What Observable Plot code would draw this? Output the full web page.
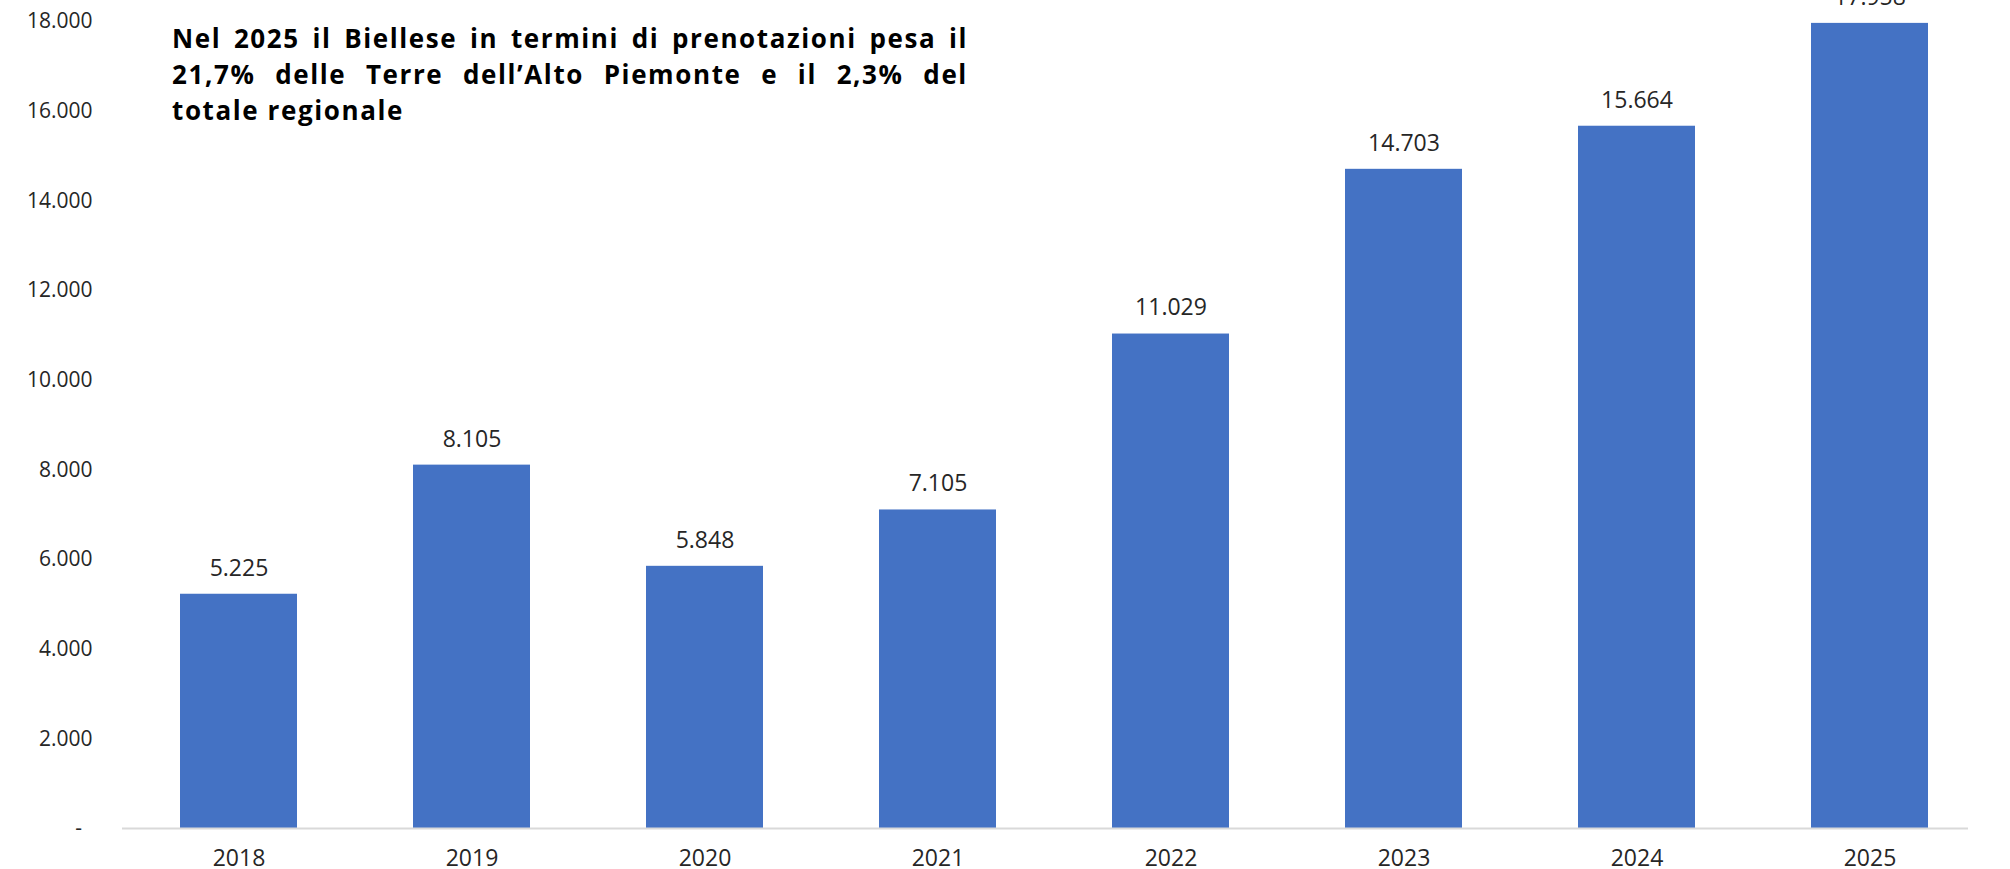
<!DOCTYPE html>
<html>
<head>
<meta charset="utf-8">
<script src="https://cdn.jsdelivr.net/npm/d3@7"></script>
<script src="https://cdn.jsdelivr.net/npm/@observablehq/plot@0.6"></script>
<style>
  html, body { margin: 0; padding: 0; background: #fff; }
  #wrap { position: relative; width: 2010px; height: 869px; overflow: hidden; }
  #title {
    position: absolute; left: 172px; top: 20px; width: 796px;
    font-family: "Open Sans", sans-serif; font-weight: 700; font-size: 26px;
    letter-spacing: 1.6px; line-height: 36px; color: #000;
  }
  #title .l { text-align: left; }
</style>
</head>
<body>
<div id="wrap">
  <div id="chart"></div>
  <div id="title">
    <div id="t1"></div>
    <div id="t2"></div>
    <div class="l" id="t3"></div>
  </div>
</div>
<script>
const years = ["2018", "2019", "2020", "2021", "2022", "2023", "2024", "2025"];
const values = [5225, 8105, 5848, 7105, 11029, 14703, 15664, 17958];
const yTicks = [0, 2000, 4000, 6000, 8000, 10000, 12000, 14000, 16000, 18000];
const titleLines = [
  "Nel 2025 il Biellese in termini di prenotazioni pesa il",
  "21,7% delle Terre dell’Alto Piemonte e il 2,3% del",
  "totale regionale"
];

// Justified title: spread words to fill the line
function justify(el, text) {
  el.style.display = "flex";
  el.style.justifyContent = "space-between";
  el.style.whiteSpace = "nowrap";
  text.split(" ").forEach(w => {
    const s = document.createElement("span");
    s.textContent = w;
    el.appendChild(s);
  });
}
justify(document.getElementById("t1"), titleLines[0]);
justify(document.getElementById("t2"), titleLines[1]);
document.getElementById("t3").textContent = titleLines[2];

const it = d3.formatLocale({decimal: ",", thousands: ".", grouping: [3], currency: ["€", ""]});
const fmt = it.format(",");

const data = years.map((y, i) => ({year: y, value: values[i]}));
const textColor = "#262626";
const font = "Open Sans, sans-serif";

const chart = Plot.plot({
  width: 2010,
  height: 869,
  marginLeft: 122,
  marginRight: 42,
  marginTop: 21,
  marginBottom: 41,
  style: {fontFamily: font, color: textColor, background: "white", overflow: "hidden"},
  x: {domain: years, range: [122, 1986], paddingInner: 0.5, paddingOuter: 0.25, label: null},
  y: {domain: [0, 18000], label: null},
  marks: [
    Plot.barY(data, {x: "year", y: "value", fill: "#4472C4"}),
    Plot.ruleY([0], {stroke: "#d9d9d9", strokeWidth: 2}),
    Plot.text(data, {
      x: "year", y: "value", text: d => fmt(d.value),
      dy: -26, fontSize: 23, fill: textColor, fontFamily: font
    }),
    Plot.axisY(yTicks, {
      tickSize: 0, tickPadding: 30, fontSize: 21, fill: textColor,
      tickFormat: d => d === 0 ? "-\u2002" : fmt(d), label: null,
      letterSpacing: "1px"
    }),
    Plot.axisX({
      tickSize: 0, tickPadding: 21, fontSize: 23, fill: textColor, label: null
    })
  ]
});
document.getElementById("chart").appendChild(chart);
</script>
</body>
</html>
